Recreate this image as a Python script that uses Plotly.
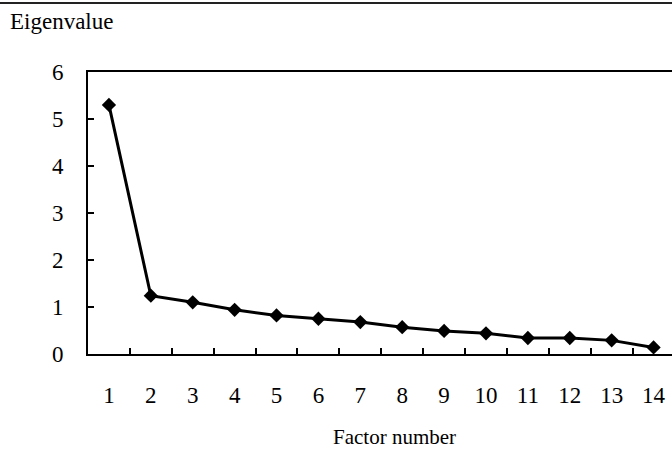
import plotly.graph_objects as go

factors = list(range(1, 15))
eigenvalues = [5.30, 1.24, 1.10, 0.94, 0.82, 0.75, 0.68, 0.57, 0.49, 0.44, 0.34, 0.34, 0.29, 0.14]
x_tick_labels = [str(f) for f in factors]
y_ticks = [0, 1, 2, 3, 4, 5, 6]
boundaries = [f + 0.5 for f in factors[:-1]]

FONT = "Liberation Serif"

fig = go.Figure()
fig.add_trace(go.Scatter(
    x=factors, y=eigenvalues, mode="lines+markers",
    line=dict(color="black", width=3),
    marker=dict(symbol="diamond", size=11, color="black"),
    showlegend=False, cliponaxis=False, hoverinfo="skip",
))

fig.update_layout(
    width=672, height=458,
    margin=dict(l=88, r=0, t=72, b=104, autoexpand=False),
    paper_bgcolor="white", plot_bgcolor="white",
    font=dict(family=FONT, color="black", size=22),
    xaxis=dict(
        range=[0.5, 14.44], tickvals=factors, ticktext=x_tick_labels,
        ticks="", showgrid=False, zeroline=False, automargin=False,
        showline=True, linecolor="black", linewidth=2, mirror=True,
        tickfont=dict(size=23, family=FONT), ticklabelstandoff=19,
        minor=dict(tickvals=boundaries, ticks="inside", ticklen=6,
                   tickcolor="black", tickwidth=1.5, showgrid=False),
    ),
    yaxis=dict(
        range=[0, 6], tickvals=y_ticks, ticks="inside", ticklen=6,
        tickcolor="black", tickwidth=1.5, automargin=False,
        showgrid=False, zeroline=False,
        showline=True, linecolor="black", linewidth=2, mirror=False,
        tickfont=dict(size=23, family=FONT), ticklabelstandoff=18,
    ),
    annotations=[
        dict(text="Eigenvalue", xref="paper", yref="paper",
             x=-0.137, y=1.18, xanchor="left", yanchor="middle",
             showarrow=False, font=dict(size=23, family=FONT)),
        dict(text="Factor number", xref="paper", yref="paper",
             x=0.524, y=-0.295, xanchor="center", yanchor="middle",
             showarrow=False, font=dict(size=21, family=FONT)),
    ],
    shapes=[
        dict(type="line", xref="paper", yref="paper",
             x0=-0.2, x1=1.05, y0=1.245, y1=1.245,
             line=dict(color="#222222", width=2)),
    ],
)

fig.write_html(
    "out.html",
    config={"displayModeBar": False},
    post_script="document.body.style.margin='0';document.body.style.overflow='hidden';",
)
